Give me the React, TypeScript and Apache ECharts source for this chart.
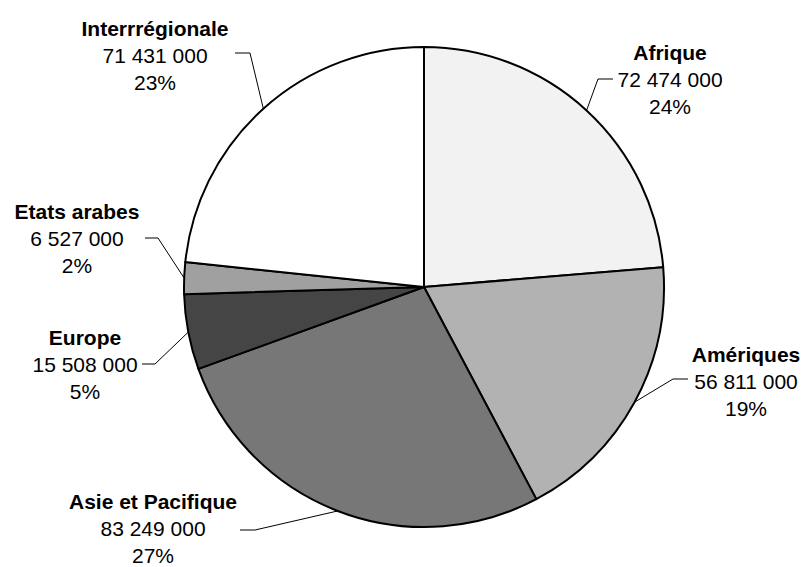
import React, { useEffect, useRef } from "react";
import * as echarts from "echarts";

const regions = ["Afrique", "Amériques", "Asie et Pacifique", "Europe", "Etats arabes", "Interrrégionale"];
const amounts = [72474000, 56811000, 83249000, 15508000, 6527000, 71431000];
const sliceColors = ["#f2f2f2", "#b2b2b2", "#777777", "#454545", "#a0a0a0", "#ffffff"];

// label layout (pixel positions): label centre, elbow, end of leader line
const labelCenters: number[][] = [[670, 79], [746, 381], [153, 528], [85, 364], [77, 238], [155, 55]];
const labelElbows: number[][] = [[598, 79], [673, 379], [255, 530], [155, 364], [158, 238], [250, 53]];
const labelEnds: number[][] = [[613, 79], [688, 379], [240, 530], [142, 364], [145, 238], [235, 53]];

const fmt = (v: number) => String(v).replace(/\B(?=(\d{3})+(?!\d))/g, " ");

export default function App() {
  const ref = useRef<HTMLDivElement>(null);
  useEffect(() => {
    if (!ref.current) return;
    const chart = echarts.init(ref.current, undefined, { renderer: "svg" });
    const font = "'Liberation Sans', Arial, sans-serif";
    chart.setOption({
      animation: false,
      backgroundColor: "#ffffff",
      series: [
        {
          type: "pie",
          center: [424, 287],
          radius: 240,
          startAngle: 90,
          clockwise: true,
          avoidLabelOverlap: false,
          data: regions.map((n, i) => ({ name: n, value: amounts[i], itemStyle: { color: sliceColors[i] } })),
          itemStyle: { borderColor: "#000", borderWidth: 2 },
          emphasis: { disabled: true },
          label: {
            show: true,
            position: "outside",
            formatter: (p: any) => `{b|${p.name}}\n{v|${fmt(p.value)}}\n{v|${Math.round(p.percent)}%}`,
            rich: {
              b: { fontFamily: font, fontSize: 21, fontWeight: "bold", color: "#000", lineHeight: 27, align: "center" },
              v: { fontFamily: font, fontSize: 21, color: "#000", lineHeight: 27, align: "center" },
            },
          },
          labelLine: { show: true, length: 10, length2: 10, lineStyle: { color: "#000", width: 1 } },
          labelLayout: (params: any) => {
            const i = params.dataIndex;
            const start = params.labelLinePoints ? params.labelLinePoints[0] : labelElbows[i];
            return {
              x: labelCenters[i][0],
              y: labelCenters[i][1],
              align: "center",
              verticalAlign: "middle",
              labelLinePoints: [start, labelElbows[i], labelEnds[i]],
            };
          },
        },
      ],
    });
    return () => chart.dispose();
  }, []);
  return <div ref={ref} style={{ position: "fixed", left: 0, top: 0, width: 804, height: 567 }} />;
}
